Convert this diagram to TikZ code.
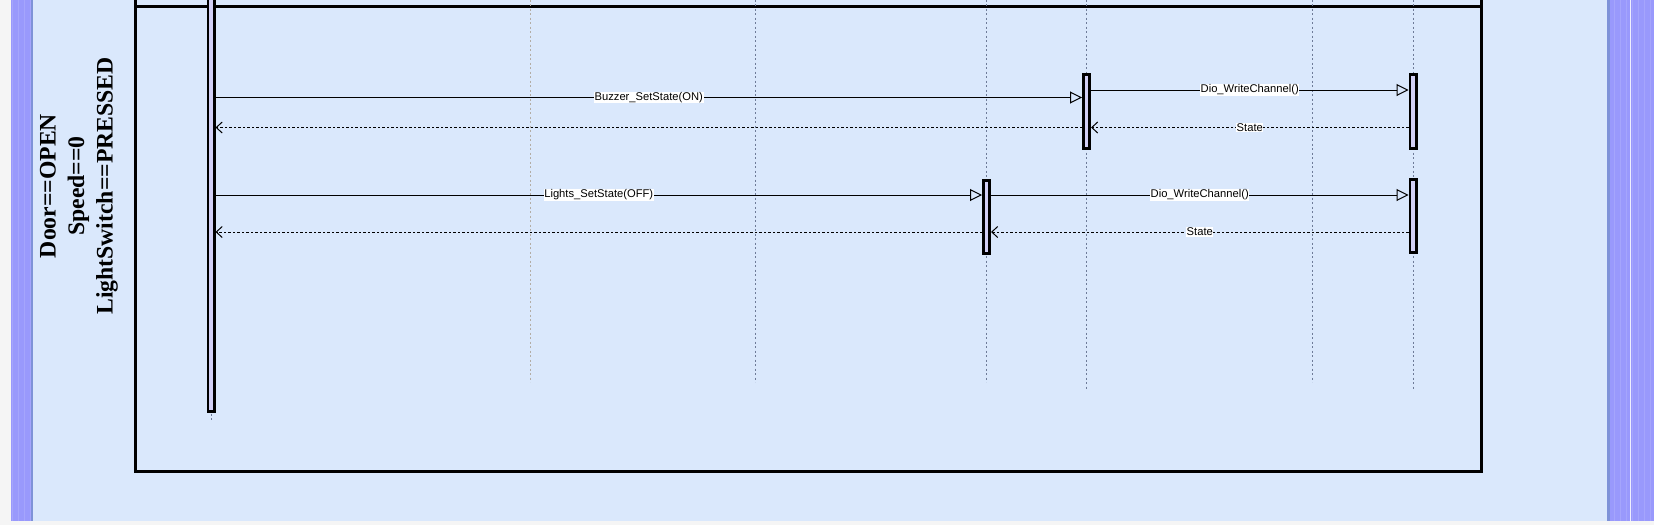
\documentclass[tikz,border=0pt]{standalone}
\usepackage{fontspec}
\setmainfont{Liberation Serif}
\newfontfamily\arialfont{Liberation Sans}
\usetikzlibrary{arrows.meta}
\definecolor{pageblue}{HTML}{DAE8FC}
\definecolor{stripblue}{HTML}{9999FC}
\definecolor{stripedge}{HTML}{7E92D8}
\definecolor{barfill}{HTML}{D2D0F6}
\definecolor{lifegrey}{HTML}{6E7B98}
\definecolor{lifetan}{HTML}{B3ADA5}
\tikzset{
    actbar/.style={line width=2.7pt, draw=black, fill=barfill, minimum width=6.3pt, inner sep=0pt},
    lifeline/.style={lifegrey, line width=1pt, dash pattern=on 2pt off 2.5pt},
    callmsg/.style={line width=0.9pt, -{Triangle[open, length=12pt, width=12pt, line width=1pt]}},
    retmsg/.style={line width=0.9pt, dash pattern=on 2.5pt off 2pt, -{Straight Barb[length=6pt, width=11pt, line width=1pt]}},
    msglbl/.style={fill=white, inner sep=0.6pt, font=\arialfont\fontsize{11.2}{12}\selectfont},
}

\begin{document}
\begin{tikzpicture}[x=1pt, y=-1pt]
    \newcommand\posAct{211}
    \newcommand\posLgt{986.5}
    \newcommand\posBzr{1086.5}
    \newcommand\posDio{1413}

    \useasboundingbox (0,0) rectangle (1654,525);
    \fill[white!96!black] (0,0) rectangle (1654,525);
    \fill[pageblue] (33,0) rectangle (1607,521);

    % side strips with grid
    \fill[stripblue] (11,0) rectangle (31,521);
    \fill[stripedge] (31,0) rectangle (33,521);
    \fill[stripblue] (1610,0) rectangle (1654,521);
    \fill[stripedge] (1607,0) rectangle (1610,521);
    \begin{scope}
        \clip (11,0) rectangle (31,521) (1610,0) rectangle (1654,521);
        \draw[white, opacity=0.12, line width=0.6pt, step=6] (-2,-2) grid (1660,530);
        \begin{scope}[shift={(10,22)}]
            \draw[white, opacity=0.85, line width=1pt, step=30] (-30,-30) grid (1650,510);
        \end{scope}
    \end{scope}

    % frame
    \draw[line width=3pt] (135,-10) rectangle (1481,471);
    \draw[line width=3pt] (135,6) -- (1481,6);

    \node[rotate=90, align=center, font=\bfseries\fontsize{23.7}{28.5}\selectfont] (cond) at (79,186)
        {Door==OPEN\\Speed==0\\LightSwitch==PRESSED};

    % lifelines
    \coordinate (topAct) at (\posAct,-5);
    \coordinate (endAct) at (\posAct,420);
    \coordinate (topE) at (530,-5);   \coordinate (endE) at (530,382);
    \coordinate (topF) at (755,-5);   \coordinate (endF) at (755,382);
    \coordinate (topL) at (\posLgt,-5); \coordinate (endL) at (\posLgt,382);
    \coordinate (topB) at (\posBzr,-5); \coordinate (endB) at (\posBzr,390);
    \coordinate (topG) at (1312,-5);  \coordinate (endG) at (1312,382);
    \coordinate (topD) at (\posDio,-5); \coordinate (endD) at (\posDio,390);
    \draw[lifeline] (topAct) -- (endAct);
    \draw[lifeline, lifetan] (topE) -- (endE);
    \draw[lifeline] (topF) -- (endF);
    \draw[lifeline] (topL) -- (endL);
    \draw[lifeline] (topB) -- (endB);
    \draw[lifeline] (topG) -- (endG);
    \draw[lifeline] (topD) -- (endD);

    % activation bars
    \node[actbar, minimum height=419pt] (act) at (\posAct,202) {};
    \node[actbar, minimum height=74.5pt] (bzr) at (\posBzr,111.5) {};
    \node[actbar, minimum height=74.5pt] (dioA) at (\posDio,111.5) {};
    \node[actbar, minimum height=73.5pt] (lgt) at (\posLgt,217) {};
    \node[actbar, minimum height=73.5pt] (dioB) at (\posDio,216) {};

    % messages
    \coordinate (m1) at (0,97.5);
    \coordinate (m2) at (0,90);
    \coordinate (m3) at (0,127.5);
    \coordinate (m4) at (0,195);
    \coordinate (m5) at (0,232);
    \draw[callmsg] (act.east |- m1) -- node[msglbl] (lblBzr) {Buzzer\_SetState(ON)} (bzr.west |- m1);
    \draw[callmsg] (bzr.east |- m2) -- node[msglbl] (lblDioA) {Dio\_WriteChannel()} (dioA.west |- m2);
    \draw[retmsg] (dioA.west |- m3) -- node[msglbl] (lblStA) {State} (bzr.east |- m3);
    \draw[retmsg] (bzr.west |- m3) -- (act.east |- m3);
    \draw[callmsg] (act.east |- m4) -- node[msglbl] (lblLgt) {Lights\_SetState(OFF)} (lgt.west |- m4);
    \draw[callmsg] (lgt.east |- m4) -- node[msglbl] (lblDioB) {Dio\_WriteChannel()} (dioB.west |- m4);
    \draw[retmsg] (dioB.west |- m5) -- node[msglbl] (lblStB) {State} (lgt.east |- m5);
    \draw[retmsg] (lgt.west |- m5) -- (act.east |- m5);
\end{tikzpicture}
\end{document}
